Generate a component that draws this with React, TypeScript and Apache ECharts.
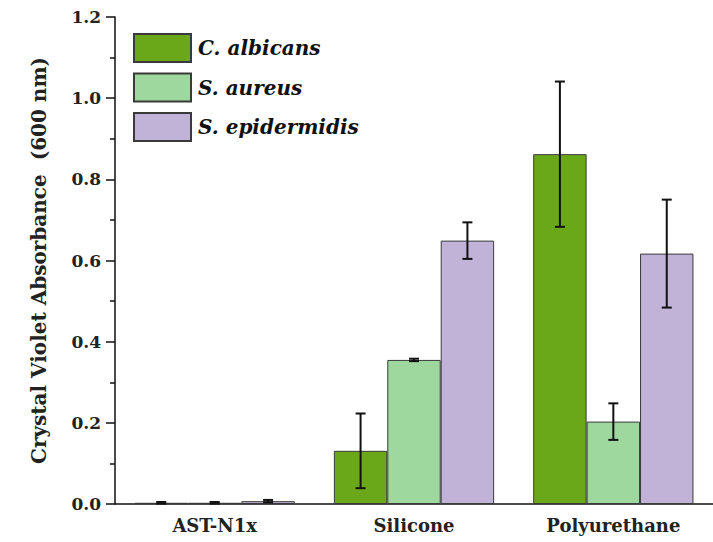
import React, { useEffect, useRef } from "react";
import * as echarts from "echarts";

const categories = ["AST-N1x", "Silicone", "Polyurethane"];
const seriesNames = ["C. albicans", "S. aureus", "S. epidermidis"];
const cAlbicans = [0.003, 0.131, 0.862];
const sAureus = [0.003, 0.355, 0.203];
const sEpidermidis = [0.007, 0.649, 0.617];
const cAlbicansErr = [0.002, 0.092, 0.179];
const sAureusErr = [0.002, 0.003, 0.045];
const sEpidermidisErr = [0.003, 0.045, 0.133];
const yTicks = [0, 0.2, 0.4, 0.6, 0.8, 1.0, 1.2];

const colors = ["#6aa81a", "#9ed89f", "#c1b2d8"];
const values = [cAlbicans, sAureus, sEpidermidis];
const errors = [cAlbicansErr, sAureusErr, sEpidermidisErr];
const GAP = 0.196;
const FONT = "'DejaVu Serif', 'Liberation Serif', serif";

export default function App() {
  const ref = useRef<HTMLDivElement>(null);
  useEffect(() => {
    const chart = echarts.init(ref.current!, undefined, { renderer: "svg" });
    const bars = values.map((vals, i) => ({
      type: "bar",
      name: seriesNames[i],
      data: vals,
      barGap: "0%",
      barCategoryGap: GAP * 100 + "%",
      itemStyle: { color: colors[i], borderColor: "#3a3a3a", borderWidth: 1 },
      z: 2,
    }));
    const errSeries = values.map((vals, i) => ({
      type: "custom",
      name: "err" + i,
      data: vals.map((v, k) => [k, v - errors[i][k], v + errors[i][k]]),
      z: 5,
      renderItem: (params: any, api: any) => {
        const k = api.value(0);
        const lo = api.coord([k, api.value(1)]);
        const hi = api.coord([k, api.value(2)]);
        const band = api.size([1, 0])[0];
        const bw = (band * (1 - GAP)) / 3;
        const x = lo[0] + (i - 1) * bw;
        const cap = 5;
        const style = { stroke: "#111", lineWidth: 2 };
        return {
          type: "group",
          children: [
            { type: "line", shape: { x1: x, y1: lo[1], x2: x, y2: hi[1] }, style },
            { type: "line", shape: { x1: x - cap, y1: lo[1], x2: x + cap, y2: lo[1] }, style },
            { type: "line", shape: { x1: x - cap, y1: hi[1], x2: x + cap, y2: hi[1] }, style },
          ],
        };
      },
    }));
    chart.setOption({
      animation: false,
      backgroundColor: "#fff",
      textStyle: { fontFamily: FONT },
      grid: { left: 115, right: -7, top: 17, bottom: 38, containLabel: false },
      legend: {
        data: seriesNames,
        orient: "vertical",
        left: 128,
        top: 28,
        itemWidth: 57,
        itemHeight: 28,
        itemGap: 9.5,
        icon: "rect",
        textStyle: {
          fontFamily: FONT,
          fontStyle: "italic",
          fontWeight: "bold",
          fontSize: 20,
          color: "#111",
          padding: [0, 0, 0, 2],
        },
      },
      xAxis: [
        {
          type: "category",
          data: categories,
          axisLine: { lineStyle: { color: "#111", width: 1.5 } },
          axisTick: { alignWithLabel: true, length: 8, lineStyle: { color: "#111", width: 1.5 } },
          axisLabel: { fontFamily: FONT, fontWeight: "bold", fontSize: 18, color: "#222", margin: 12 },
        },
        {
          type: "category",
          data: categories,
          position: "bottom",
          axisLine: { show: false },
          axisTick: { length: 4, lineStyle: { color: "#111", width: 1.5 } },
          axisLabel: { show: false },
        },
      ],
      yAxis: {
        type: "value",
        min: yTicks[0],
        max: yTicks[yTicks.length - 1],
        interval: 0.2,
        name: "Crystal Violet Absorbance  (600 nm)",
        nameLocation: "middle",
        nameGap: 66,
        nameTextStyle: { fontFamily: FONT, fontWeight: "bold", fontSize: 20, color: "#222" },
        axisLine: { show: true, lineStyle: { color: "#111", width: 1.5 } },
        axisTick: { show: true, length: 9, lineStyle: { color: "#111", width: 1.5 } },
        minorTick: { show: true, splitNumber: 2, length: 5, lineStyle: { color: "#111", width: 1.5 } },
        splitLine: { show: false },
        axisLabel: {
          fontFamily: FONT,
          fontWeight: "bold",
          fontSize: 17,
          color: "#222",
          margin: 14,
          formatter: (v: number) => v.toFixed(1),
        },
      },
      series: [...bars, ...errSeries],
    });
    return () => chart.dispose();
  }, []);
  return <div ref={ref} style={{ width: 713, height: 542, position: "absolute", left: 0, top: 0 }} />;
}
